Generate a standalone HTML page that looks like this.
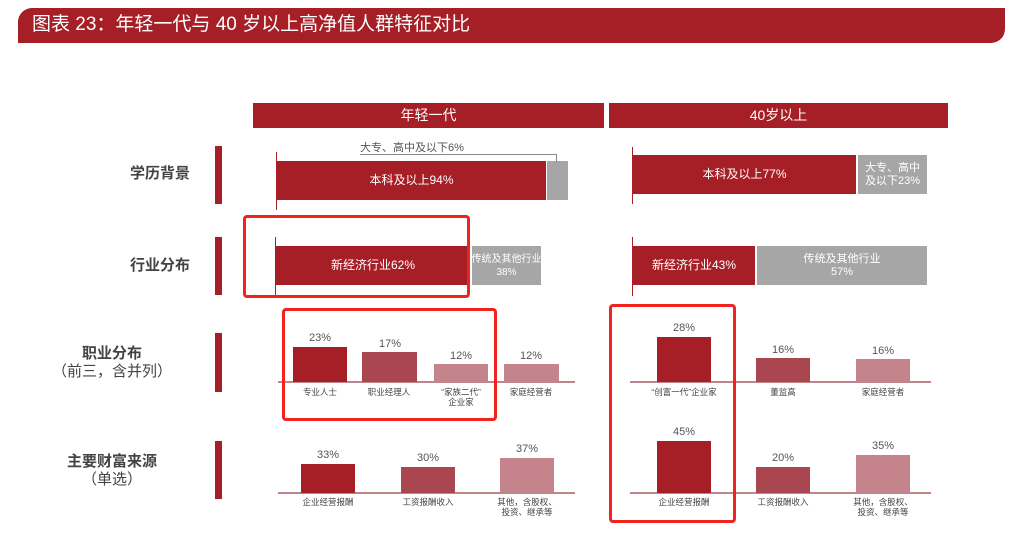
<!DOCTYPE html>
<html><head><meta charset="utf-8"><style>
body{margin:0;width:1024px;height:557px;background:#fff;position:relative;overflow:hidden;font-family:"Liberation Sans","Noto Sans CJK SC",sans-serif}
div{position:absolute;box-sizing:border-box}
.t{white-space:nowrap;text-align:center}
.dr{background:#a61f26}.md{background:#a94650}.lt{background:#c5848b}.gr{background:#a6a6a6}
.w{color:#fff;font-size:12px;display:flex;align-items:center;justify-content:center;text-align:center;line-height:13px;white-space:nowrap}
.v{font-size:11px;color:#555;text-align:center;width:80px}
.c{font-size:8.5px;color:#444;text-align:center;width:90px;line-height:10px}
.lb{font-size:15px;font-weight:bold;color:#444;text-align:right;width:180px;line-height:18px}
.box{border:3px solid #f0231e;border-radius:4px}
</style></head><body>
<div style="left:18px;top:8px;width:987px;height:35px;background:#a61f26;border-radius:14px 0 14px 0"></div>
<div style="left:32px;top:11px;color:#fff;font-size:19px;line-height:27px" class="t">图表 23：年轻一代与 40 岁以上高净值人群特征对比</div>
<div class="dr w" style="left:253px;top:103px;width:351px;height:25px;font-size:14px">年轻一代</div>
<div class="dr w" style="left:609px;top:103px;width:339px;height:25px;font-size:14px">40岁以上</div>

<div class="dr" style="left:215px;top:146px;width:7px;height:58px"></div>
<div class="dr" style="left:215px;top:237px;width:7px;height:58px"></div>
<div class="dr" style="left:215px;top:333px;width:7px;height:59px"></div>
<div class="dr" style="left:215px;top:441px;width:7px;height:58px"></div>
<div class="lb" style="left:10px;top:165px">学历背景</div>
<div class="lb" style="left:10px;top:257px">行业分布</div>
<div class="lb" style="left:22px;top:345px;text-align:center;width:180px">职业分布<br><span style="font-weight:normal">（前三，含并列）</span></div>
<div class="lb" style="left:52px;top:453px;text-align:center;width:120px">主要财富来源<br><span style="font-weight:normal">（单选）</span></div>

<!-- row1 -->
<div style="left:276px;top:152px;width:1px;height:58px;background:#a61f26"></div>
<div class="dr w" style="left:277px;top:161px;width:269px;height:39px">本科及以上94%</div>
<div class="gr" style="left:547px;top:161px;width:21px;height:39px"></div>
<div class="t" style="left:360px;top:139px;font-size:11px;color:#555">大专、高中及以下6%</div>
<div style="left:360px;top:154px;width:197px;height:8px;border-top:1px solid #888;border-right:1px solid #888"></div>
<div style="left:632px;top:147px;width:1px;height:57px;background:#a61f26"></div>
<div class="dr w" style="left:633px;top:155px;width:223px;height:39px">本科及以上77%</div>
<div class="gr w" style="left:858px;top:155px;width:69px;height:39px;font-size:11px">大专、高中<br>及以下23%</div>
<!-- row2 -->
<div style="left:275px;top:237px;width:1px;height:59px;background:#a61f26"></div>
<div class="dr w" style="left:276px;top:246px;width:194px;height:39px">新经济行业62%</div>
<div class="gr w" style="left:472px;top:246px;width:69px;height:39px;font-size:10px">传统及其他行业<br>38%</div>
<div style="left:632px;top:237px;width:1px;height:59px;background:#a61f26"></div>
<div class="dr w" style="left:633px;top:246px;width:122px;height:39px">新经济行业43%</div>
<div class="gr w" style="left:757px;top:246px;width:170px;height:39px;font-size:11px">传统及其他行业<br>57%</div>
<div class="box" style="left:243px;top:215px;width:227px;height:83px"></div>

<!-- row3 -->
<div style="left:278px;top:381px;width:297px;height:2px;background:#c0848b"></div>
<div class="dr" style="left:293px;top:347px;width:54px;height:35px"></div>
<div class="md" style="left:362px;top:352px;width:55px;height:30px"></div>
<div class="lt" style="left:434px;top:364px;width:54px;height:18px"></div>
<div class="lt" style="left:504px;top:364px;width:55px;height:18px"></div>
<div class="v" style="left:280px;top:332px">23%</div>
<div class="v" style="left:350px;top:338px">17%</div>
<div class="v" style="left:421px;top:350px">12%</div>
<div class="v" style="left:491px;top:350px">12%</div>
<div class="c" style="left:275px;top:387px">专业人士</div>
<div class="c" style="left:344px;top:387px">职业经理人</div>
<div class="c" style="left:416px;top:387px">“家族二代”<br>企业家</div>
<div class="c" style="left:486px;top:387px">家庭经营者</div>
<div style="left:630px;top:381px;width:301px;height:2px;background:#c0848b"></div>
<div class="dr" style="left:657px;top:337px;width:54px;height:45px"></div>
<div class="md" style="left:756px;top:358px;width:54px;height:24px"></div>
<div class="lt" style="left:856px;top:359px;width:54px;height:23px"></div>
<div class="v" style="left:644px;top:322px">28%</div>
<div class="v" style="left:743px;top:344px">16%</div>
<div class="v" style="left:843px;top:345px">16%</div>
<div class="c" style="left:639px;top:387px">“创富一代”企业家</div>
<div class="c" style="left:738px;top:387px">董监高</div>
<div class="c" style="left:838px;top:387px">家庭经营者</div>
<div class="box" style="left:282px;top:308px;width:215px;height:113px"></div>

<!-- row4 -->
<div style="left:278px;top:492px;width:297px;height:2px;background:#c0848b"></div>
<div class="dr" style="left:301px;top:464px;width:54px;height:29px"></div>
<div class="md" style="left:401px;top:467px;width:54px;height:26px"></div>
<div class="lt" style="left:500px;top:458px;width:54px;height:35px"></div>
<div class="v" style="left:288px;top:449px">33%</div>
<div class="v" style="left:388px;top:452px">30%</div>
<div class="v" style="left:487px;top:443px">37%</div>
<div class="c" style="left:283px;top:497px">企业经营报酬</div>
<div class="c" style="left:383px;top:497px">工资报酬收入</div>
<div class="c" style="left:482px;top:497px">其他，含股权、<br>投资、继承等</div>
<div style="left:630px;top:492px;width:301px;height:2px;background:#c0848b"></div>
<div class="dr" style="left:657px;top:441px;width:54px;height:52px"></div>
<div class="md" style="left:756px;top:467px;width:54px;height:26px"></div>
<div class="lt" style="left:856px;top:455px;width:54px;height:38px"></div>
<div class="v" style="left:644px;top:426px">45%</div>
<div class="v" style="left:743px;top:452px">20%</div>
<div class="v" style="left:843px;top:440px">35%</div>
<div class="c" style="left:639px;top:497px">企业经营报酬</div>
<div class="c" style="left:738px;top:497px">工资报酬收入</div>
<div class="c" style="left:838px;top:497px">其他，含股权、<br>投资、继承等</div>
<div class="box" style="left:609px;top:304px;width:127px;height:219px"></div>
</body></html>
